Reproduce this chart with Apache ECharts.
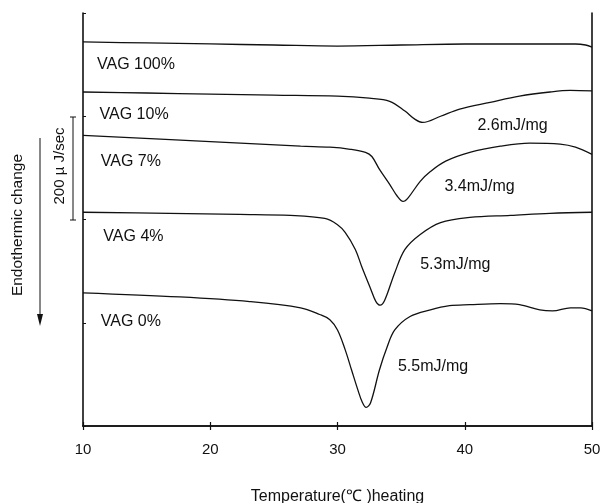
<!DOCTYPE html>
<html>
<head>
<meta charset="utf-8">
<script src="https://cdn.jsdelivr.net/npm/echarts@6/dist/echarts.min.js"></script>
<style>
  html, body { margin: 0; padding: 0; background: #fff; }
  #main { width: 600px; height: 503px; }
</style>
</head>
<body>
<div id="main"></div>
<script>
// DSC heating curves, [temperature (°C), heat flow offset (µJ/sec)]
const vag100 = [[10, 744], [15, 742], [20, 740], [25, 738], [30, 736], [35, 738], [40, 740],
  [45, 740], [48.7, 740], [49.5, 738], [50, 734]]
const vag10 = [[10, 647], [15, 645], [20, 643], [25, 641], [30, 639], [32.5, 635], [34.1, 629],
  [35.3, 610], [36.1, 594], [36.7, 588], [38.1, 600], [39.6, 614], [42, 627], [44.3, 639],
  [46.7, 647], [48.3, 650], [50, 649]]
const vag7 = [[10, 563], [20, 551], [27.1, 542], [29.4, 540], [31, 536], [32.2, 530], [32.7, 522],
  [33.3, 497], [34.1, 468], [34.7, 445], [35.15, 435], [35.55, 442], [36.5, 474], [37.3, 493],
  [38.5, 513], [40.4, 530], [42.8, 542], [45.1, 548], [47.5, 546], [48.7, 540], [50, 526]]
const vag4 = [[10, 414], [16.8, 412], [22.3, 410], [26.3, 408], [29, 402], [30, 390], [30.6, 375],
  [31.4, 342], [31.9, 309], [32.6, 266], [33.0, 242], [33.35, 234], [33.7, 243], [34.5, 297],
  [35.3, 342], [36.5, 371], [38.1, 394], [40.4, 404], [43.6, 408], [46.7, 412], [50, 414]]
const vag0 = [[10, 258], [17.6, 250], [23.1, 241], [27.1, 229], [28.6, 216], [29.4, 206], [30, 186],
  [30.6, 148], [31.1, 109], [31.6, 70], [31.95, 46], [32.25, 36], [32.6, 45], [33.3, 109],
  [33.9, 153], [34.5, 186], [35.7, 212], [37.3, 225], [38.8, 233], [40.4, 235], [42.8, 237],
  [44.3, 235], [45.9, 225], [46.9, 223], [48.3, 229], [49.1, 229], [50, 223]]

const sampleNames = ['VAG 100%', 'VAG 10%', 'VAG 7%', 'VAG 4%', 'VAG 0%']
const enthalpies = ['', '2.6mJ/mg', '3.4mJ/mg', '5.3mJ/mg', '5.5mJ/mg']
const xTicks = [10, 20, 30, 40, 50]

const curves = [vag100, vag10, vag7, vag4, vag0]
// where the text sits, in data coords
const nameAt = [[11.1, 701], [11.3, 604], [11.4, 513], [11.6, 367], [11.4, 202]]
const enthAt = [null, [41.0, 581], [38.4, 464], [36.5, 313], [34.75, 115]]

const font = '"Liberation Sans", Arial, sans-serif'
const ink = '#111'

const chart = echarts.init(document.getElementById('main'), null, { renderer: 'canvas' })

const series = curves.map(function (d, i) {
  const marks = [{ coord: nameAt[i], value: sampleNames[i] }]
  if (enthAt[i]) marks.push({ coord: enthAt[i], value: enthalpies[i] })
  return {
    name: sampleNames[i],
    type: 'line',
    data: d,
    smooth: 0.35,
    showSymbol: false,
    lineStyle: { color: ink, width: 1.3 },
    markPoint: {
      symbol: 'circle',
      symbolSize: 0,
      silent: true,
      label: {
        show: true,
        position: 'right',
        distance: 0,
        formatter: '{c}',
        color: ink,
        fontFamily: font,
        fontSize: 16
      },
      data: marks
    }
  }
})

const option = {
  animation: false,
  backgroundColor: '#fff',
  grid: { left: 83, right: 8, top: 13, bottom: 77, containLabel: false, outerBoundsMode: 'none' },
  xAxis: [
    {
      type: 'value',
      min: xTicks[0],
      max: xTicks[xTicks.length - 1],
      interval: 10,
      name: 'Temperature(℃ )heating',
      nameLocation: 'middle',
      nameGap: 63,
      nameTextStyle: { color: ink, fontFamily: font, fontSize: 16 },
      axisLine: { lineStyle: { color: ink, width: 1.6 } },
      axisTick: { inside: true, length: 4, lineStyle: { color: ink, width: 1.2 } },
      axisLabel: { color: ink, fontFamily: font, fontSize: 15, margin: 16 },
      splitLine: { show: false }
    },
    {
      type: 'value',
      position: 'top',
      min: xTicks[0],
      max: xTicks[xTicks.length - 1],
      interval: 10,
      axisLine: { lineStyle: { color: ink, width: 1.6 } },
      axisTick: { inside: true, length: 4, lineStyle: { color: ink, width: 1.2 } },
      axisLabel: { show: false },
      splitLine: { show: false }
    }
  ],
  yAxis: [
    {
      type: 'value',
      min: 0,
      max: 800,
      interval: 200,
      axisLine: { show: true, lineStyle: { color: ink, width: 1.6 } },
      axisTick: { show: true, inside: true, length: 3, lineStyle: { color: ink, width: 1 } },
      axisLabel: { show: false },
      splitLine: { show: false }
    },
    {
      type: 'value',
      position: 'right',
      min: 0,
      max: 800,
      axisLine: { show: true, lineStyle: { color: ink, width: 1.6 } },
      axisTick: { show: false },
      axisLabel: { show: false },
      splitLine: { show: false }
    }
  ],
  graphic: [
    // scale bar 200 µJ/sec
    { type: 'line', shape: { x1: 73, y1: 117, x2: 73, y2: 220 }, style: { stroke: ink, lineWidth: 1 } },
    { type: 'line', shape: { x1: 70, y1: 117, x2: 76, y2: 117 }, style: { stroke: ink, lineWidth: 1 } },
    { type: 'line', shape: { x1: 70, y1: 220, x2: 76, y2: 220 }, style: { stroke: ink, lineWidth: 1 } },
    {
      type: 'text', x: 60, y: 166, rotation: Math.PI / 2,
      style: { text: '200 µ J/sec', fill: ink, font: '15px ' + font, align: 'center', verticalAlign: 'middle' }
    },
    // endothermic arrow
    { type: 'line', shape: { x1: 40, y1: 138, x2: 40, y2: 322 }, style: { stroke: ink, lineWidth: 1 } },
    { type: 'polygon', shape: { points: [[37, 314], [43, 314], [40, 326]] }, style: { fill: ink } },
    {
      type: 'text', x: 18, y: 225, rotation: Math.PI / 2,
      style: { text: 'Endothermic change', fill: ink, font: '15.5px ' + font, align: 'center', verticalAlign: 'middle' }
    }
  ],
  series: series
}

chart.setOption(option)
</script>
</body>
</html>
